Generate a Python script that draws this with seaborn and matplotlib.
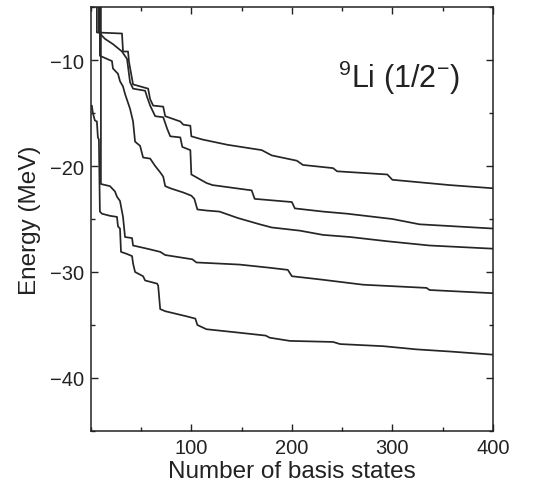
import matplotlib
matplotlib.use('Agg')
import pandas as pd
import matplotlib.pyplot as plt
import seaborn as sns
from matplotlib.ticker import MultipleLocator

# number of basis states / energy (MeV) for the five lowest 1/2- levels of 9Li
n1 = [6, 6, 31, 32, 37, 38, 42, 57, 59, 62, 72, 74, 89, 92, 99, 100, 111, 136, 170, 180,
      205, 211, 241, 245, 295, 300, 357, 400]
e1 = [-3, -7.4, -7.5, -9.2, -9.2, -10.2, -12.3, -12.7, -13.7, -14.3, -14.4, -15.3, -15.8,
      -16.1, -16.2, -17.2, -17.5, -18.0, -18.5, -19.0, -19.5, -19.9, -20.2, -20.5, -20.8,
      -21.3, -21.8, -22.1]

n2 = [8, 8, 9, 14, 22, 31, 36, 39, 42, 54, 56, 59, 64, 72, 76, 79, 89, 91, 99, 100, 115,
      121, 160, 163, 200, 203, 231, 255, 300, 327, 400]
e2 = [-3, -7.4, -7.5, -8.0, -8.5, -9.2, -9.9, -12.1, -12.7, -12.9, -13.5, -14.3, -15.3,
      -15.4, -16.5, -17.2, -17.3, -18.2, -18.5, -20.8, -21.6, -21.8, -22.3, -23.1, -23.4,
      -24.0, -24.3, -24.5, -25.0, -25.5, -25.9]

n3 = [9, 9, 21, 22, 27, 29, 32, 34, 39, 42, 44, 49, 52, 59, 64, 69, 72, 74, 79, 92, 100,
      103, 106, 115, 128, 146, 168, 180, 208, 231, 258, 295, 337, 400]
e3 = [-3, -9.6, -10.1, -10.8, -11.3, -12.0, -12.5, -13.2, -14.6, -15.8, -17.7, -18.1,
      -19.2, -19.3, -20.0, -20.6, -21.0, -21.9, -22.1, -22.5, -22.8, -23.1, -24.1, -24.2,
      -24.3, -24.9, -25.5, -25.8, -26.1, -26.5, -26.7, -27.1, -27.5, -27.8]

n4 = [10, 10, 19, 24, 26, 29, 32, 34, 41, 42, 56, 69, 74, 101, 105, 148, 178, 196, 200,
      228, 271, 334, 337, 400]
e4 = [-3, -21.7, -21.9, -22.4, -22.9, -23.3, -24.8, -26.7, -26.8, -27.5, -27.8, -28.1,
      -28.4, -28.8, -29.1, -29.3, -29.6, -29.8, -30.4, -30.7, -31.2, -31.5, -31.7, -32.0]

n5 = [1, 2, 4, 6, 7, 8, 9, 11, 19, 26, 27, 29, 30, 36, 41, 42, 44, 52, 54, 66, 67, 69,
      74, 96, 104, 106, 115, 145, 174, 178, 198, 241, 248, 291, 324, 357, 400]
e5 = [-14.3, -15.0, -15.7, -15.8, -17.3, -17.5, -24.3, -24.5, -24.7, -24.8, -25.7, -25.9,
      -28.1, -28.3, -28.5, -29.2, -30.0, -30.4, -30.8, -31.1, -31.3, -33.5, -33.7, -34.2,
      -34.4, -35.0, -35.4, -35.7, -36.0, -36.2, -36.5, -36.6, -36.8, -37.0, -37.3, -37.5,
      -37.8]

levels = [(n1, e1), (n2, e2), (n3, e3), (n4, e4), (n5, e5)]
frames = []
for i, (n, e) in enumerate(levels):
    frames.append(pd.DataFrame({'n': n, 'E': e, 'level': i}))
df = pd.concat(frames, ignore_index=True)

sns.set_theme(style='ticks')
plt.rcParams['font.family'] = ['Liberation Sans', 'DejaVu Sans']
plt.rcParams['mathtext.fontset'] = 'custom'
plt.rcParams['mathtext.rm'] = 'Liberation Sans'
plt.rcParams['mathtext.it'] = 'Liberation Sans:italic'

fig = plt.figure(figsize=(5.44, 4.89), dpi=100)
ax = fig.add_axes([0.167, 0.1166, 0.739, 0.867])

sns.lineplot(data=df, x='n', y='E', hue='level', palette=['#262626'] * 5,
             sort=False, estimator=None, legend=False, linewidth=1.25, ax=ax)

ax.set_xlim(0, 400)
ax.set_ylim(-45, -5)
ax.xaxis.set_major_locator(MultipleLocator(100))
ax.xaxis.set_minor_locator(MultipleLocator(50))
ax.yaxis.set_major_locator(MultipleLocator(10))
ax.yaxis.set_minor_locator(MultipleLocator(5))
ax.set_xticks([100, 200, 300, 400])
ax.tick_params(which='both', direction='in', top=True, right=True,
               width=1, color='#222222', labelcolor='#222222')
ax.tick_params(which='major', length=5, labelsize=14.5, pad=5)
ax.tick_params(which='minor', length=3)
for s in ax.spines.values():
    s.set_linewidth(1.1)
    s.set_color('#222222')

ax.set_xlabel('Number of basis states', fontsize=17.5, color='#222222', labelpad=2)
ax.set_ylabel('Energy (MeV)', fontsize=17.5, color='#222222', labelpad=6)
ax.text(246, -12.5, r'$^{9}$Li (1/2$^{-}$)', fontsize=22, color='#222222',
        ha='left', va='baseline')

fig.savefig('out.png', dpi=100)
